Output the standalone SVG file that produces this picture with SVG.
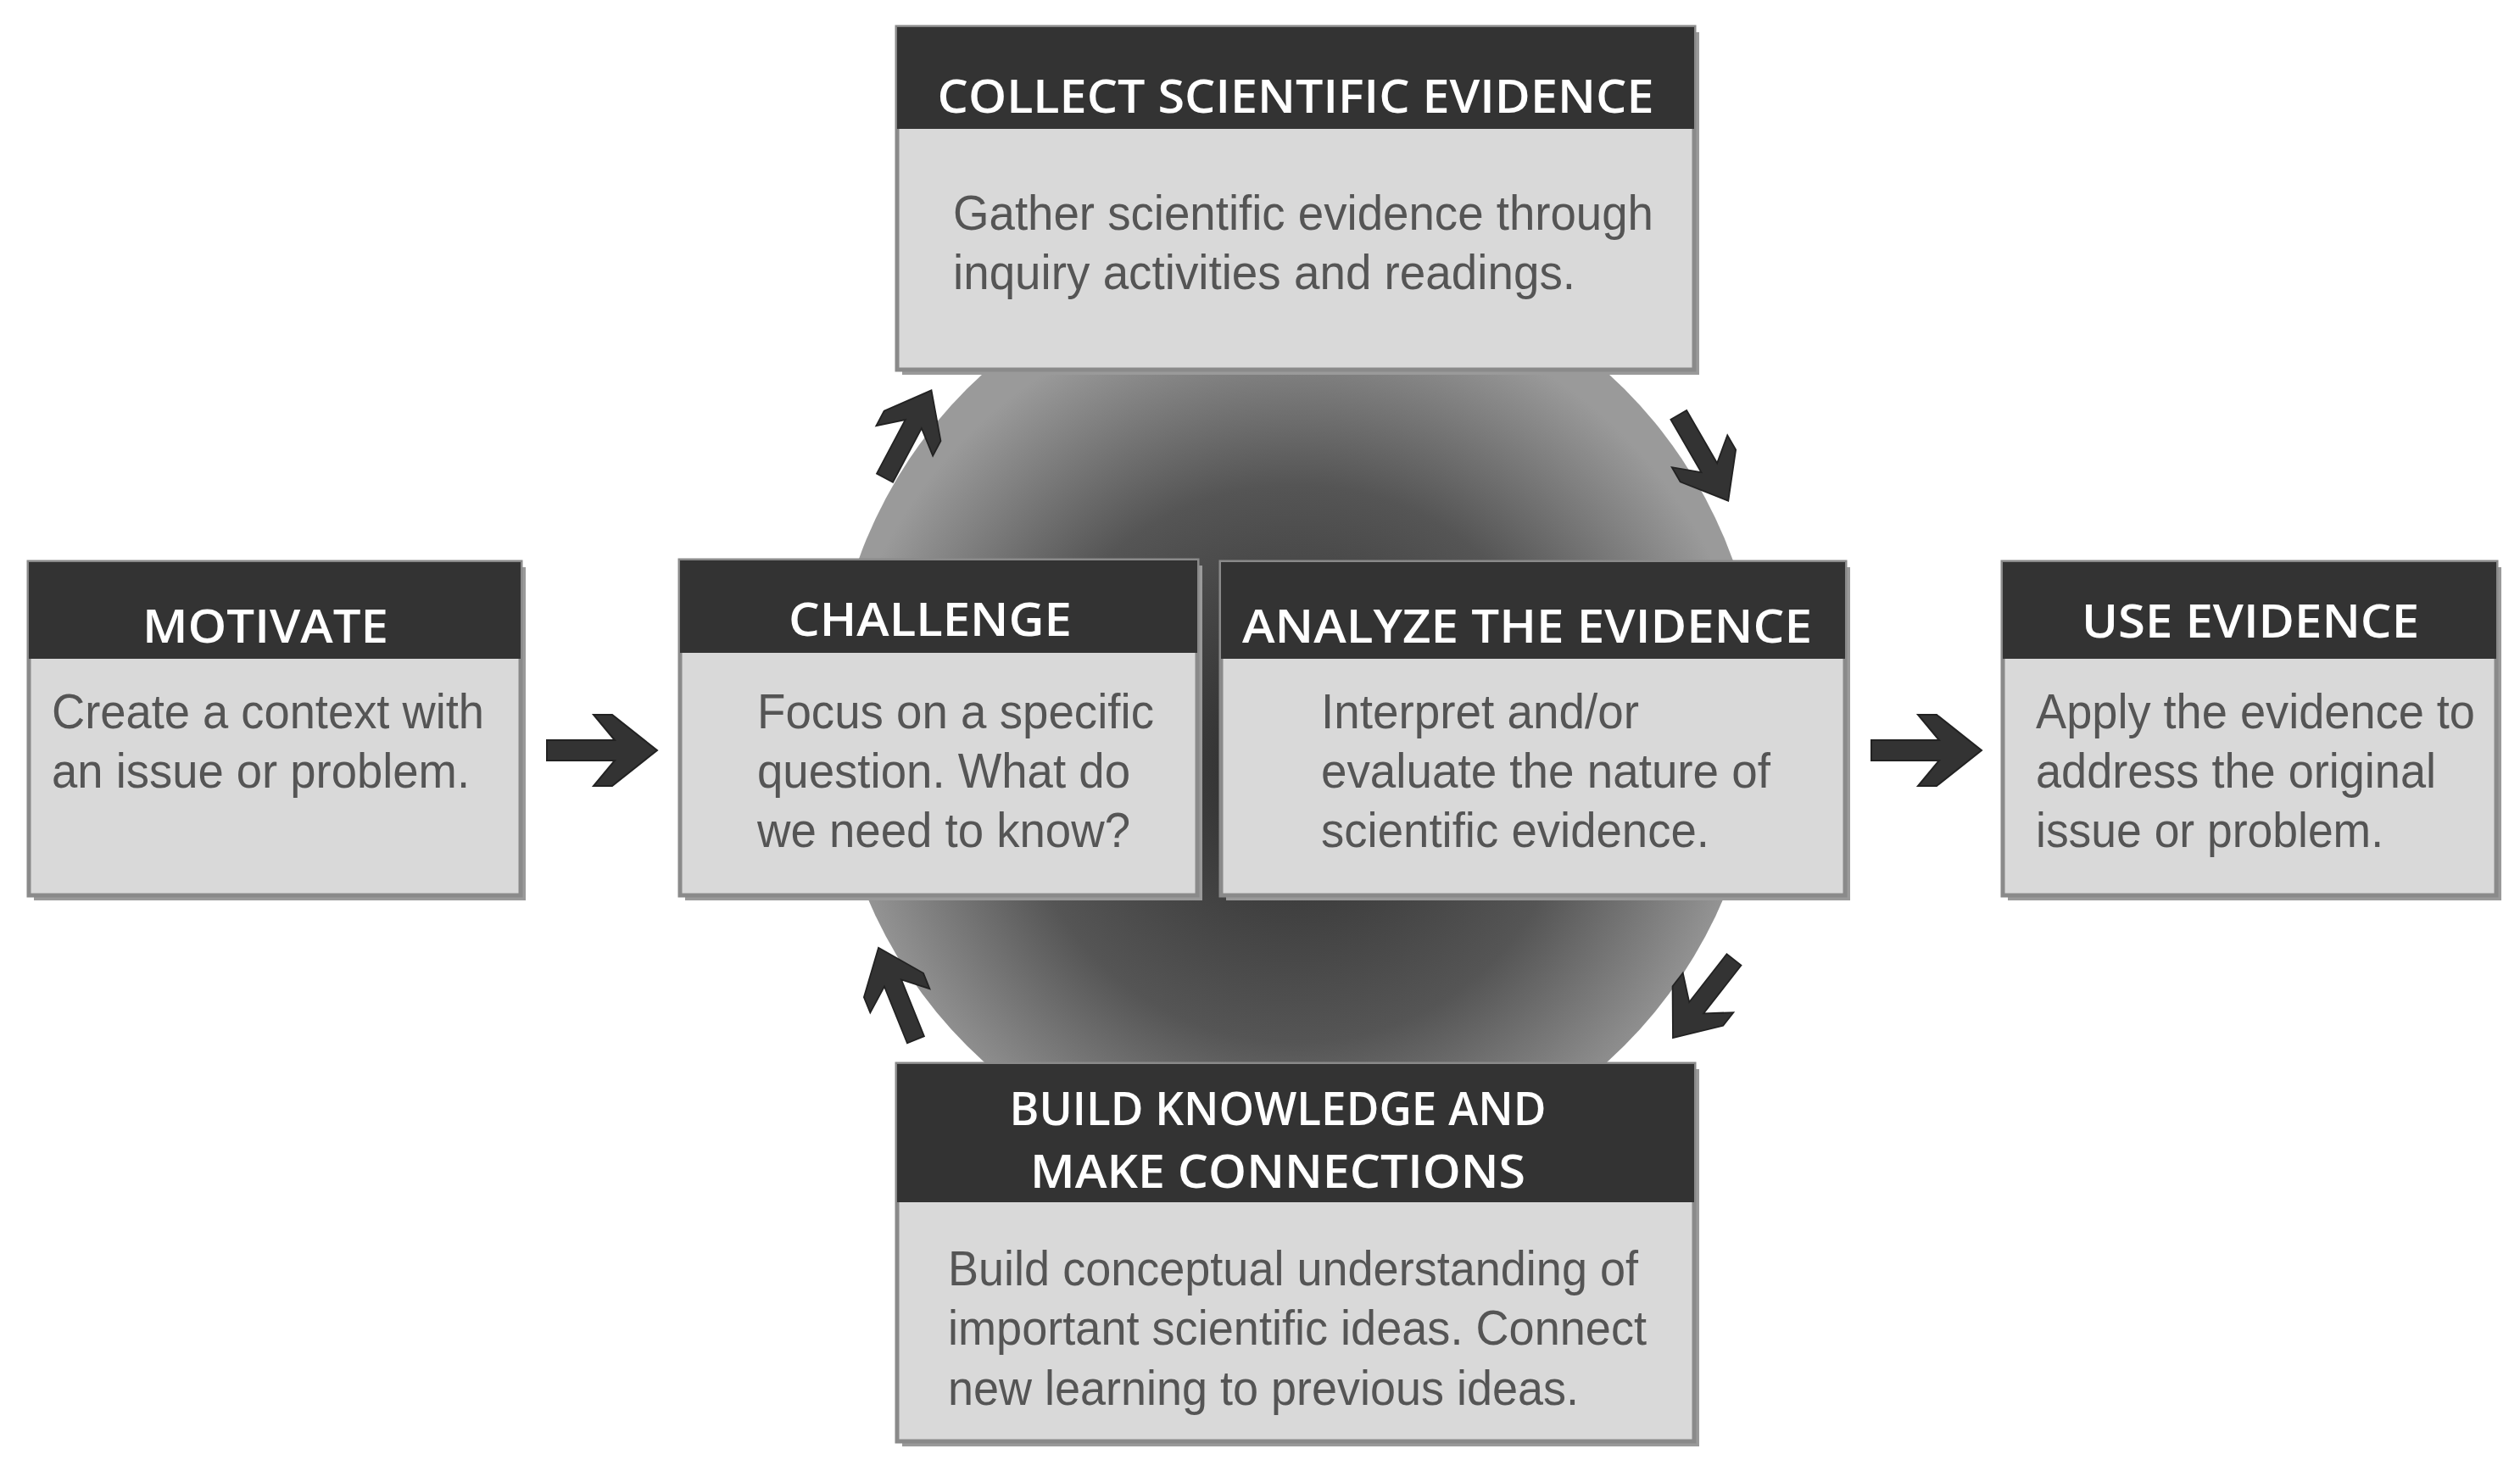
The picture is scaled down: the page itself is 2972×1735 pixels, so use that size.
<svg xmlns="http://www.w3.org/2000/svg" width="2972" height="1735" viewBox="0 0 2972 1735">
<style>
.box{fill:#d9d9d9;stroke:#8a8a8a;stroke-width:5}
.hdr{fill:#333}
.sh{fill:#9a9a9a}
.ht{font-family:"Open Sans","Liberation Sans",sans-serif;font-weight:600;font-size:54px;fill:#fff;text-anchor:middle}
.bt{font-family:"Liberation Sans",Arial,sans-serif;font-size:58px;fill:#555}
.arr{fill:#333;stroke:#222;stroke-width:2}
</style>
<defs>
<radialGradient id="g" cx="0.5" cy="0.55" r="0.5">
<stop offset="0" stop-color="#2a2a2a"/><stop offset="0.6" stop-color="#555"/><stop offset="1" stop-color="#9a9a9a"/>
</radialGradient>
<polygon id="ar" points="-65,-12 15,-12 -10,-42 12,-42 65,0 12,42 -10,42 15,12 -65,12"/>
</defs>
<rect width="2972" height="1735" fill="#fff"/>
<ellipse cx="1528" cy="846" rx="548" ry="548" fill="url(#g)"/>
<g id="connectors" class="arr">
<use href="#ar" transform="translate(710,885)"/>
<use href="#ar" transform="translate(2272,885)"/>
<use href="#ar" transform="translate(1071,512) rotate(-62) scale(0.9)"/>
<use href="#ar" transform="translate(2009,540) rotate(60) scale(0.9)"/>
<use href="#ar" transform="translate(2009,1178) rotate(128) scale(0.9)"/>
<use href="#ar" transform="translate(1058,1172) rotate(-112) scale(0.9)"/>
</g>
<g id="collect">
<rect class="sh" x="1064" y="38" width="940" height="404"/>
<rect class="box" x="1058" y="32" width="940" height="404"/>
<rect class="hdr" x="1058" y="32" width="940" height="120"/>
<text class="ht" x="1528" y="133" textLength="845" lengthAdjust="spacingAndGlyphs">COLLECT SCIENTIFIC EVIDENCE</text>
<text class="bt" x="1124" y="271" textLength="826" lengthAdjust="spacingAndGlyphs">Gather scientific evidence through</text>
<text class="bt" x="1124" y="341" textLength="734" lengthAdjust="spacingAndGlyphs">inquiry activities and readings.</text>
</g>
<g id="motivate">
<rect class="sh" x="40" y="669" width="580" height="393"/>
<rect class="box" x="34" y="663" width="580" height="393"/>
<rect class="hdr" x="34" y="663" width="580" height="114"/>
<text class="ht" x="313" y="758" textLength="290" lengthAdjust="spacingAndGlyphs">MOTIVATE</text>
<text class="bt" x="61" y="859" textLength="510" lengthAdjust="spacingAndGlyphs">Create a context with</text>
<text class="bt" x="61" y="929" textLength="493" lengthAdjust="spacingAndGlyphs">an issue or problem.</text>
</g>
<g id="challenge">
<rect class="sh" x="808" y="667" width="610" height="395"/>
<rect class="box" x="802" y="661" width="610" height="395"/>
<rect class="hdr" x="802" y="661" width="610" height="109"/>
<text class="ht" x="1097" y="750" textLength="334" lengthAdjust="spacingAndGlyphs">CHALLENGE</text>
<text class="bt" x="893" y="859" textLength="468" lengthAdjust="spacingAndGlyphs">Focus on a specific</text>
<text class="bt" x="893" y="929" textLength="440" lengthAdjust="spacingAndGlyphs">question. What do</text>
<text class="bt" x="893" y="999" textLength="440" lengthAdjust="spacingAndGlyphs">we need to know?</text>
</g>
<g id="analyze">
<rect class="sh" x="1446" y="669" width="736" height="393"/>
<rect class="box" x="1440" y="663" width="736" height="393"/>
<rect class="hdr" x="1440" y="663" width="736" height="114"/>
<text class="ht" x="1801" y="758" textLength="672" lengthAdjust="spacingAndGlyphs">ANALYZE THE EVIDENCE</text>
<text class="bt" x="1558" y="859" textLength="375" lengthAdjust="spacingAndGlyphs">Interpret and/or</text>
<text class="bt" x="1558" y="929" textLength="530" lengthAdjust="spacingAndGlyphs">evaluate the nature of</text>
<text class="bt" x="1558" y="999" textLength="458" lengthAdjust="spacingAndGlyphs">scientific evidence.</text>
</g>
<g id="use">
<rect class="sh" x="2368" y="669" width="582" height="393"/>
<rect class="box" x="2362" y="663" width="582" height="393"/>
<rect class="hdr" x="2362" y="663" width="582" height="114"/>
<text class="ht" x="2654" y="752" textLength="398" lengthAdjust="spacingAndGlyphs">USE EVIDENCE</text>
<text class="bt" x="2401" y="859" textLength="518" lengthAdjust="spacingAndGlyphs">Apply the evidence to</text>
<text class="bt" x="2401" y="929" textLength="472" lengthAdjust="spacingAndGlyphs">address the original</text>
<text class="bt" x="2401" y="999" textLength="410" lengthAdjust="spacingAndGlyphs">issue or problem.</text>
</g>
<g id="build">
<rect class="sh" x="1064" y="1261" width="940" height="445"/>
<rect class="box" x="1058" y="1255" width="940" height="445"/>
<rect class="hdr" x="1058" y="1255" width="940" height="163"/>
<text class="ht" x="1507" y="1327" textLength="633" lengthAdjust="spacingAndGlyphs">BUILD KNOWLEDGE AND</text>
<text class="ht" x="1507" y="1401" textLength="584" lengthAdjust="spacingAndGlyphs">MAKE CONNECTIONS</text>
<text class="bt" x="1118" y="1516" textLength="814" lengthAdjust="spacingAndGlyphs">Build conceptual understanding of</text>
<text class="bt" x="1118" y="1586" textLength="824" lengthAdjust="spacingAndGlyphs">important scientific ideas. Connect</text>
<text class="bt" x="1118" y="1657" textLength="744" lengthAdjust="spacingAndGlyphs">new learning to previous ideas.</text>
</g>
</svg>
